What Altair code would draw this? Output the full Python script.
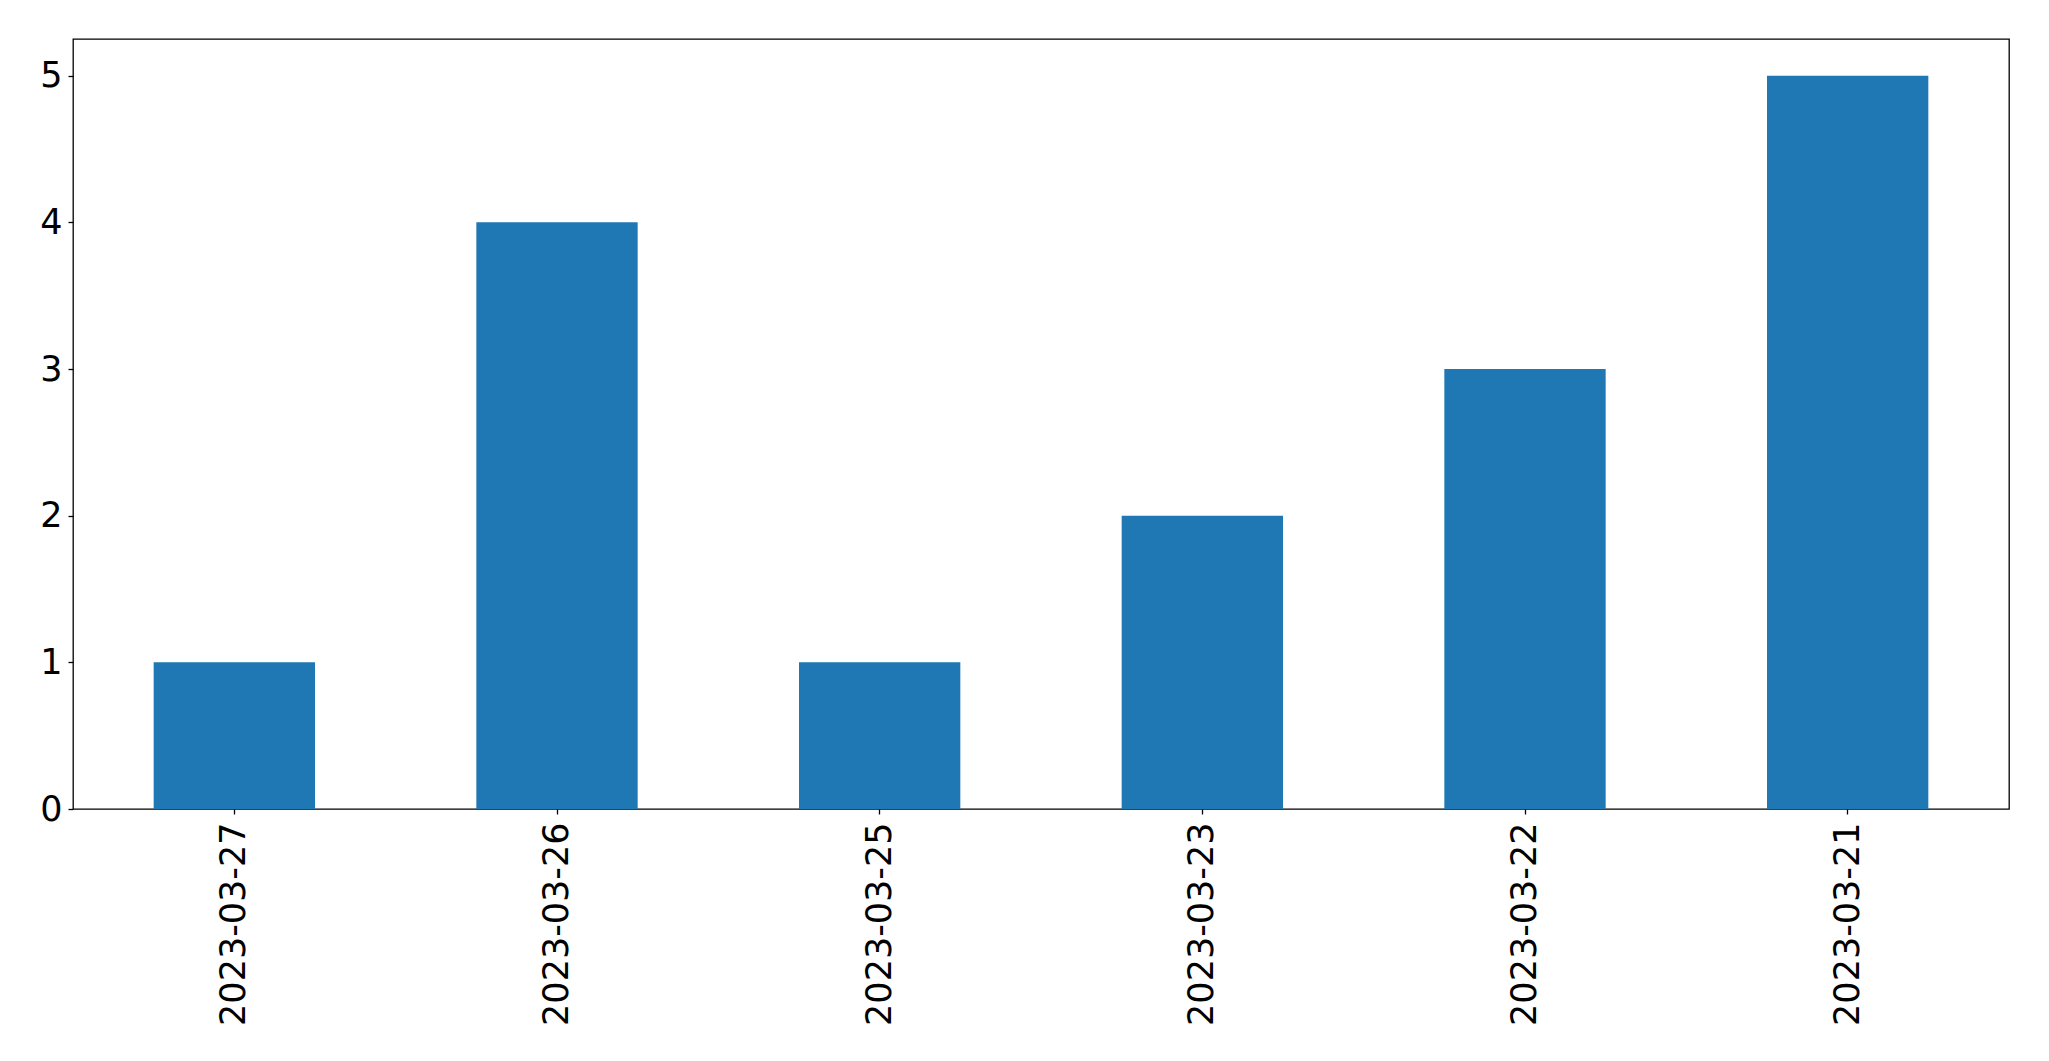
import altair as alt
import pandas as pd

dates = ["2023-03-27", "2023-03-26", "2023-03-25", "2023-03-23", "2023-03-22", "2023-03-21"]
counts = [1, 4, 1, 2, 3, 5]

df = pd.DataFrame({"date": dates, "count": counts})

chart = alt.Chart(df).mark_bar(color="#1f77b4").encode(
    x=alt.X("date:N", sort=None, title=None,
            scale=alt.Scale(paddingInner=0.5, paddingOuter=0.25),
            axis=alt.Axis(labelAngle=-90, labelFontSize=35, labelFont="DejaVu Sans",
                          labelColor="black", tickColor="black", tickSize=5, tickWidth=1.3,
                          labelPadding=8, labelLimit=0, domain=False, grid=False)),
    y=alt.Y("count:Q", title=None,
            scale=alt.Scale(domain=[0, 5.25], nice=False, zero=True),
            axis=alt.Axis(values=[0, 1, 2, 3, 4, 5], labelFontSize=35, labelFont="DejaVu Sans",
                          labelColor="black", tickColor="black", tickSize=5, tickWidth=1.3,
                          labelPadding=6, domain=False, grid=False)),
).properties(
    width=1936, height=770,
    autosize=alt.AutoSizeParams(type="none"),
    padding={"left": 65, "top": 31, "right": 32, "bottom": 244},
    background="white",
).configure_view(stroke="black", strokeWidth=1.3)

chart.save("out.html", embed_options={"renderer": "svg", "actions": False})
